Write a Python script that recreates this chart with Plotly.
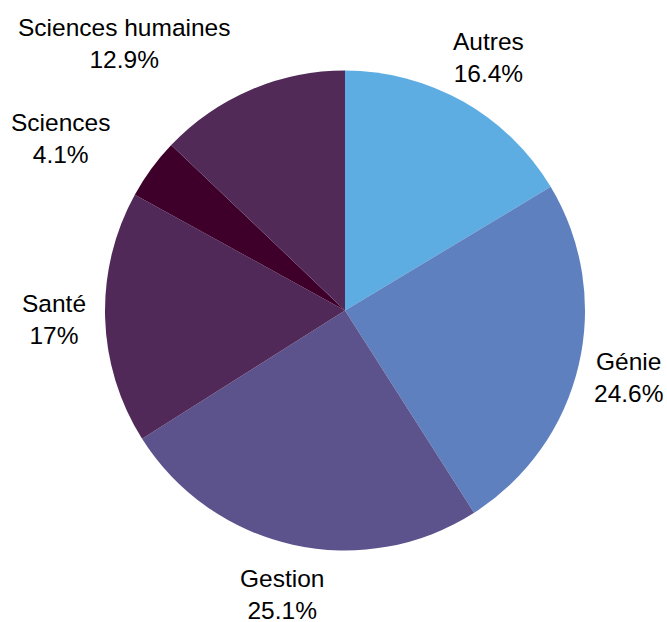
import math
import plotly.graph_objects as go

categories = ["Autres", "Génie", "Gestion", "Santé", "Sciences", "Sciences humaines"]
values = [16.4, 24.6, 25.1, 17.0, 4.1, 12.9]
colors = ["#5DADE2", "#5F80BE", "#5C528C", "#502958", "#3E002B", "#512A58"]
label_anchor = ["center", "center", "center", "center", "right", "right"]

W, H = 667, 622
cx, cy, R = 345, 310.5, 240
label_r = 291

fig = go.Figure(go.Pie(
    labels=categories,
    values=values,
    sort=False,
    direction="clockwise",
    rotation=0,
    marker=dict(colors=colors, line=dict(width=0)),
    textinfo="none",
    hoverinfo="label+percent",
    showlegend=False,
    domain=dict(x=[(cx - R) / W, (cx + R) / W], y=[(H - cy - R) / H, (H - cy + R) / H]),
))

total = sum(values)
cum = 0.0
annotations = []
for cat, v, anc in zip(categories, values, label_anchor):
    mid = (cum + v / 2) / total * 2 * math.pi
    cum += v
    px = cx + label_r * math.sin(mid)
    py = cy - label_r * math.cos(mid)
    annotations.append(dict(
        x=px / W, y=(H - py) / H, xref="paper", yref="paper",
        text=f"{cat}<br>{v:g}%", showarrow=False,
        xanchor=anc, yanchor="middle", align="center",
        xshift=2 if anc == "right" else 0,
        font=dict(family="Liberation Sans, Arial, sans-serif", size=24.5, color="#000000"),
    ))

fig.update_layout(
    width=W, height=H,
    margin=dict(l=0, r=0, t=0, b=0),
    paper_bgcolor="white", plot_bgcolor="white",
    annotations=annotations,
)

fig.write_html(
    "out.html",
    config={"displayModeBar": False},
    post_script="document.body.style.margin='0px';document.body.style.overflow='hidden';",
)
